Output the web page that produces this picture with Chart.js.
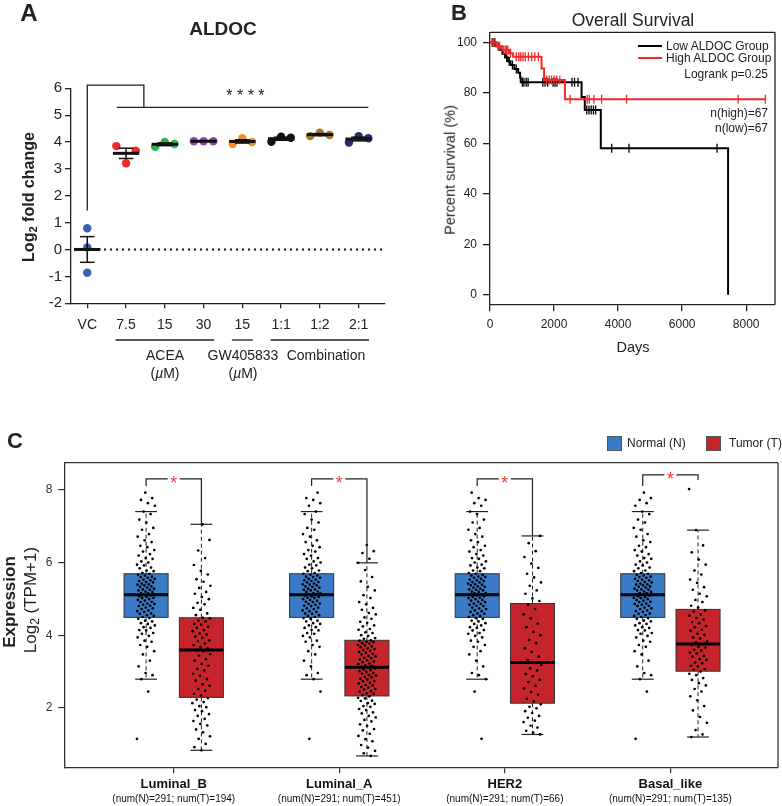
<!DOCTYPE html>
<html>
<head>
<meta charset="utf-8">
<title>ALDOC</title>
<script src="https://cdn.jsdelivr.net/npm/chart.js@4.4.1/dist/chart.umd.min.js"></script>
<style>
  html, body { margin: 0; padding: 0; background: #fff; }
  body { width: 782px; height: 806px; position: relative; overflow: hidden; font-family: 'Liberation Sans', Arial, sans-serif; color: #222; }
  canvas { position: absolute; }
  .lbl { position: absolute; white-space: nowrap; line-height: 1; transform: translate(-50%, -50%); }
  .lbl.left { transform: translate(0, -50%); }
  .lbl.right { transform: translate(-100%, -50%); }
  .lbl.rot { transform: translate(-50%, -50%) rotate(-90deg); }
  .b { font-weight: bold; }
  sub { font-size: 0.7em; vertical-align: -0.3em; line-height: 0; }
  .key { position: absolute; height: 2px; width: 24px; }
  .sq { position: absolute; width: 15px; height: 15px; box-sizing: border-box; border: 1px solid #555; }
</style>
</head>
<body>
<canvas id="chartA" width="400" height="400" style="left:0;top:0"></canvas>
<canvas id="chartB" width="382" height="340" style="left:400px;top:0"></canvas>
<canvas id="chartC" width="782" height="386" style="left:0;top:420px"></canvas>

<!-- panel A text -->
<div class="lbl b" style="left:29px;top:13px;font-size:24px">A</div>
<div class="lbl b" style="left:223px;top:28px;font-size:19px">ALDOC</div>
<div class="lbl b rot" style="left:29px;top:197px;font-size:16px">Log<sub>2</sub> fold change</div>
<div class="lbl" style="left:165px;top:355px;font-size:14px">ACEA</div>
<div class="lbl" style="left:165px;top:373px;font-size:14px">(<i>µ</i>M)</div>
<div class="lbl" style="left:243px;top:355px;font-size:14px">GW405833</div>
<div class="lbl" style="left:243px;top:373px;font-size:14px">(<i>µ</i>M)</div>
<div class="lbl" style="left:326px;top:355px;font-size:14px">Combination</div>

<!-- panel B text -->
<div class="lbl b" style="left:459px;top:13px;font-size:22px">B</div>
<div class="lbl" style="left:633px;top:21px;font-size:17.5px">Overall Survival</div>
<div class="key" style="left:638px;top:45px;background:#000"></div>
<div class="key" style="left:638px;top:56.5px;background:#f42a2a"></div>
<div class="lbl left" style="left:666px;top:46px;font-size:12px">Low ALDOC Group</div>
<div class="lbl left" style="left:666px;top:57.5px;font-size:12px">High ALDOC Group</div>
<div class="lbl right" style="left:768px;top:73.5px;font-size:12px">Logrank p=0.25</div>
<div class="lbl right" style="left:768px;top:112.5px;font-size:12px">n(high)=67</div>
<div class="lbl right" style="left:768px;top:128px;font-size:12px">n(low)=67</div>
<div class="lbl rot" style="left:450px;top:170px;font-size:14.5px">Percent survival (%)</div>
<div class="lbl" style="left:633px;top:347px;font-size:14.5px">Days</div>

<!-- panel C text -->
<div class="lbl b" style="left:15px;top:441px;font-size:22px">C</div>
<div class="sq" style="left:607px;top:436px;background:#3a7bc8"></div>
<div class="lbl left" style="left:627px;top:443px;font-size:12px">Normal (N)</div>
<div class="sq" style="left:706px;top:436px;background:#c4242a"></div>
<div class="lbl left" style="left:729px;top:443px;font-size:12px">Tumor (T)</div>
<div class="lbl b rot" style="left:9px;top:602px;font-size:17px">Expression</div>
<div class="lbl rot" style="left:30px;top:600px;font-size:17px">Log<sub>2</sub> (TPM+1)</div>

<script>
// ---------------- panel A: ALDOC qPCR ----------------
const aldocCats = ['VC', '7.5', '15', '30', '15', '1:1', '1:2', '2:1'];
const aldocVals = [
  [0.79, 0.08, -0.86],
  [3.85, 3.21, 3.68],
  [3.82, 4.0, 3.93],
  [4.03, 4.03, 4.03],
  [3.93, 4.14, 4.0],
  [4.01, 4.2, 4.16],
  [4.22, 4.35, 4.26],
  [3.98, 4.22, 4.14]
];
const aldocColors = ['#3b5fb5', '#ee2a2a', '#2fb24a', '#9247b3', '#f39021', '#111111', '#a57a2e', '#272c72'];
const aldocTicks = [-2, -1, 0, 1, 2, 3, 4, 5, 6];
const aldocGroups = [[1, 3], [4, 4], [5, 7]];

// ---------------- panel B: Kaplan-Meier ----------------
const lowDays  = [0, 200, 300, 400, 470, 560, 640, 760, 880, 940, 960, 2860, 2960, 3460, 7435];
const lowSurv  = [100, 98.5, 97.0, 95.5, 94.0, 92.5, 91.0, 89.5, 88.0, 86.1, 84.2, 78.4, 73.2, 58.0, 0];
const lowCensor = [90, 150, 280, 380, 520, 600, 700, 820, 1010, 1060, 1130, 1190, 1650, 1720, 1800, 1970, 2030, 2090, 2560, 2640, 2750, 3020, 3090, 3160, 3230, 3300, 3800, 4340, 7090];
const highDays = [0, 200, 380, 600, 720, 1610, 1690, 2340, 8600];
const highSurv = [100, 98.5, 97.0, 95.7, 94.3, 89.7, 85.1, 77.5, 77.5];
const highCensor = [60, 120, 250, 300, 430, 480, 520, 560, 640, 820, 900, 960, 1030, 1100, 1200, 1300, 1400, 1510, 1770, 1850, 1920, 2000, 2080, 2180, 2500, 3035, 3100, 3245, 3485, 4265, 7750, 8600];
const kmXTicks = [0, 2000, 4000, 6000, 8000];
const kmYTicks = [0, 20, 40, 60, 80, 100];

// ---------------- panel C: GEPIA boxplots ----------------
const subtypes = ['Luminal_B', 'Luminal_A', 'HER2', 'Basal_like'];
const subtypeCounts = ['(num(N)=291; num(T)=194)', '(num(N)=291; num(T)=451)', '(num(N)=291; num(T)=66)', '(num(N)=291; num(T)=135)'];
// [lower whisker, Q1, median, Q3, upper whisker]
const normalBox = [2.79, 4.49, 5.11, 5.69, 7.40];
const tumorBoxes = [
  [0.835, 2.29, 3.59, 4.48, 7.05],
  [0.68, 2.33, 3.12, 3.86, 5.99],
  [1.27, 2.13, 3.25, 4.87, 6.73],
  [1.20, 3.01, 3.76, 4.71, 6.89]
];
const exprTicks = [2, 4, 6, 8];
const normalPts = [1.15, 2.45, 2.79, 2.9, 2.96, 3.14, 3.3, 3.47, 3.56, 3.68, 3.73, 3.82, 3.85, 3.94, 3.98, 4.04, 4.06, 4.13, 4.14, 4.2, 4.22, 4.27, 4.31, 4.33, 4.38, 4.4, 4.45, 4.47,
  4.5, 4.53, 4.55, 4.59, 4.6, 4.64, 4.66, 4.68, 4.72, 4.74, 4.76, 4.8, 4.81, 4.84, 4.86, 4.87, 4.91, 4.92, 4.95, 4.97, 4.99, 5.02, 5.03, 5.05, 5.07, 5.09, 5.11,
  5.12, 5.15, 5.16, 5.19, 5.2, 5.23, 5.25, 5.26, 5.28, 5.31, 5.33, 5.34, 5.37, 5.39, 5.4, 5.42, 5.45, 5.46, 5.49, 5.51, 5.53, 5.55, 5.58, 5.6, 5.61, 5.64, 5.66, 5.69,
  5.71, 5.76, 5.78, 5.84, 5.86, 5.92, 5.94, 6.0, 6.03, 6.1, 6.12, 6.19, 6.23, 6.3, 6.34, 6.42, 6.46, 6.56, 6.61, 6.71, 6.78, 6.9, 6.95, 7.1, 7.18, 7.33, 7.4, 7.56, 7.63, 7.72, 7.77, 7.92];
const tumorPts = [
  [0.835, 0.92, 1.01, 1.15, 1.22, 1.33, 1.41, 1.52, 1.56, 1.64, 1.7, 1.78, 1.83, 1.91, 1.94, 2.02, 2.05, 2.13, 2.16, 2.23, 2.27,
   2.34, 2.39, 2.47, 2.52, 2.61, 2.65, 2.75, 2.79, 2.88, 2.94, 3.03, 3.07, 3.16, 3.21, 3.3, 3.34, 3.44, 3.48, 3.56, 3.59,
   3.64, 3.67, 3.73, 3.77, 3.84, 3.86, 3.93, 3.96, 4.02, 4.05, 4.11, 4.14, 4.2, 4.23, 4.29, 4.31, 4.38, 4.4, 4.46, 4.48,
   4.55, 4.6, 4.7, 4.75, 4.85, 4.89, 4.99, 5.05, 5.14, 5.19, 5.3, 5.36, 5.47, 5.54, 5.67, 5.77, 5.93, 6.12, 6.33, 6.62, 7.05],
  [0.68, 0.75, 0.82, 0.91, 0.98, 1.08, 1.14, 1.23, 1.29, 1.38, 1.42, 1.51, 1.55, 1.63, 1.67, 1.74, 1.78, 1.85, 1.88, 1.94, 1.97, 2.03, 2.05, 2.11, 2.13, 2.19, 2.2, 2.26, 2.28, 2.32,
   2.35, 2.39, 2.4, 2.45, 2.46, 2.51, 2.52, 2.56, 2.58, 2.62, 2.63, 2.67, 2.69, 2.73, 2.74, 2.78, 2.8, 2.84, 2.85, 2.89, 2.9, 2.94, 2.96, 2.99, 3.01, 3.04, 3.06, 3.09, 3.1, 3.12,
   3.15, 3.17, 3.21, 3.22, 3.26, 3.28, 3.31, 3.33, 3.37, 3.38, 3.42, 3.43, 3.47, 3.49, 3.52, 3.54, 3.57, 3.59, 3.62, 3.64, 3.67, 3.69, 3.72, 3.73, 3.77, 3.78, 3.81, 3.82, 3.85, 3.86,
   3.9, 3.92, 3.98, 4.0, 4.06, 4.08, 4.15, 4.17, 4.24, 4.27, 4.34, 4.37, 4.45, 4.49, 4.57, 4.61, 4.7, 4.75, 4.85, 4.91, 5.02, 5.1, 5.23, 5.33, 5.48, 5.6, 5.79, 5.99, 6.1, 6.26, 6.31, 6.48],
  [1.27, 1.32, 1.37, 1.46, 1.51, 1.61, 1.65, 1.73, 1.78, 1.86, 1.91, 1.99, 2.03, 2.1,
   2.18, 2.25, 2.36, 2.44, 2.54, 2.61, 2.71, 2.77, 2.87, 2.93, 3.03, 3.09, 3.18, 3.24,
   3.32, 3.41, 3.54, 3.64, 3.78, 3.87, 4.0, 4.09, 4.22, 4.32, 4.46, 4.57, 4.72, 4.84,
   4.94, 5.01, 5.14, 5.23, 5.36, 5.45, 5.59, 5.69, 5.85, 5.97, 6.15, 6.31, 6.53, 6.73],
  [1.2, 1.27, 1.39, 1.59, 1.75, 1.93, 2.05, 2.21, 2.32, 2.45, 2.52, 2.62, 2.68, 2.77, 2.82, 2.9, 2.94, 3.0,
   3.05, 3.07, 3.14, 3.16, 3.23, 3.25, 3.32, 3.34, 3.41, 3.43, 3.5, 3.52, 3.58, 3.6, 3.66, 3.68, 3.73, 3.75,
   3.8, 3.83, 3.91, 3.94, 4.01, 4.04, 4.12, 4.15, 4.22, 4.25, 4.33, 4.36, 4.43, 4.47, 4.54, 4.57, 4.65, 4.68,
   4.76, 4.81, 4.91, 4.97, 5.07, 5.14, 5.25, 5.32, 5.44, 5.53, 5.67, 5.78, 5.94, 6.08, 6.28, 6.47, 6.89, 8.02]
];

Chart.defaults.font.family = "'Liberation Sans', Arial, sans-serif";
Chart.defaults.color = '#222';

const axisGrid = { drawOnChartArea: false, drawTicks: true, tickLength: 6, color: '#222', lineWidth: 1.3 };
const axisBorder = { color: '#222', width: 1.3 };

function line(ctx, x1, y1, x2, y2) {
  ctx.beginPath();
  ctx.moveTo(x1, y1);
  ctx.lineTo(x2, y2);
  ctx.stroke();
}

function meanOf(a) { return a.reduce((s, v) => s + v, 0) / a.length; }
function semOf(a) {
  const m = meanOf(a);
  const sd = Math.sqrt(a.reduce((s, v) => s + (v - m) * (v - m), 0) / (a.length - 1));
  return sd / Math.sqrt(a.length);
}

// ---- chart A ----
const ptsA = [];
const colA = [];
aldocVals.forEach((vals, i) => {
  // prism spreads points sideways only when they overlap
  const spread = (Math.max(...vals) - Math.min(...vals)) < 0.7 ? 0.25 : 0;
  vals.forEach((v, j) => {
    ptsA.push({ x: i + (j - 1) * spread, y: v });
    colA.push(aldocColors[i]);
  });
});

const aldocMarks = {
  id: 'aldocMarks',
  beforeDatasetsDraw(chart) {
    const { ctx, scales: { x, y }, chartArea: a } = chart;
    ctx.save();
    ctx.strokeStyle = '#111';
    ctx.lineWidth = 2;
    ctx.setLineDash([2, 4]);
    line(ctx, a.left + 3, y.getPixelForValue(0), a.right - 3, y.getPixelForValue(0));
    ctx.restore();
  },
  afterDatasetsDraw(chart) {
    const { ctx, scales: { x, y }, chartArea: a } = chart;
    const px = v => x.getPixelForValue(v);
    const py = v => y.getPixelForValue(v);
    ctx.save();
    ctx.strokeStyle = '#111';
    aldocVals.forEach((vals, i) => {
      const m = meanOf(vals), e = semOf(vals);
      ctx.lineWidth = 1.5;
      line(ctx, px(i), py(m - e), px(i), py(m + e));
      line(ctx, px(i - 0.19), py(m + e), px(i + 0.19), py(m + e));
      line(ctx, px(i - 0.19), py(m - e), px(i + 0.19), py(m - e));
      ctx.lineWidth = 3;
      line(ctx, px(i - 0.34), py(m), px(i + 0.34), py(m));
    });
    // significance bracket
    ctx.strokeStyle = '#222';
    ctx.lineWidth = 1.3;
    ctx.beginPath();
    ctx.moveTo(px(0), py(1.45));
    ctx.lineTo(px(0), py(6.12));
    ctx.lineTo(px(1.46), py(6.12));
    ctx.lineTo(px(1.46), py(5.29));
    ctx.stroke();
    line(ctx, px(0.76), py(5.29), px(7.25), py(5.29));
    ctx.fillStyle = '#222';
    ctx.font = "16px 'Liberation Sans', Arial, sans-serif";
    ctx.textAlign = 'center';
    ctx.textBaseline = 'alphabetic';
    ctx.fillText('* * * *', px(4.08), py(5.87) + 9);
    // treatment group underlines
    const gy = a.bottom + 36.7;
    aldocGroups.forEach(([f, t]) => line(ctx, px(f - 0.27), gy, px(t + 0.27), gy));
    ctx.restore();
  }
};

new Chart(document.getElementById('chartA'), {
  type: 'scatter',
  data: {
    datasets: [{
      data: ptsA,
      pointRadius: 4.2,
      pointBackgroundColor: colA,
      pointBorderWidth: 0
    }]
  },
  options: {
    responsive: false,
    animation: false,
    devicePixelRatio: 1,
    layout: { padding: { top: 88.3, right: 15, left: 0, bottom: 0 } },
    plugins: { legend: { display: false }, tooltip: { enabled: false } },
    scales: {
      x: {
        type: 'linear', min: -0.42, max: 7.68,
        afterBuildTicks: s => { s.ticks = aldocCats.map((c, i) => ({ value: i })); },
        afterFit: s => { s.height = 96.7; },
        ticks: { callback: v => aldocCats[v], font: { size: 14 }, color: '#222', padding: 8, maxRotation: 0, autoSkip: false },
        grid: Object.assign({}, axisGrid, { tickLength: 5 }),
        border: axisBorder
      },
      y: {
        type: 'linear', min: -2, max: 6,
        afterBuildTicks: s => { s.ticks = aldocTicks.map(v => ({ value: v })); },
        afterFit: s => { s.width = 71; },
        ticks: { font: { size: 15 }, color: '#222', padding: 3 },
        grid: axisGrid,
        border: axisBorder
      }
    }
  },
  plugins: [aldocMarks]
});

// ---- chart B ----
function survAt(days, surv, t) {
  let s = surv[0];
  for (let i = 0; i < days.length; i++) {
    if (days[i] <= t) s = surv[i];
  }
  return s;
}
const kmFrame = {
  id: 'kmFrame',
  afterDraw(chart) {
    const { ctx, chartArea: a } = chart;
    ctx.save();
    ctx.strokeStyle = '#222';
    ctx.lineWidth = 1.3;
    line(ctx, a.left, a.top, a.right, a.top);
    line(ctx, a.right, a.top, a.right, a.bottom);
    ctx.restore();
  }
};

new Chart(document.getElementById('chartB'), {
  type: 'scatter',
  data: {
    datasets: [
      {
        data: highDays.map((d, i) => ({ x: d, y: highSurv[i] })),
        showLine: true, stepped: true, borderColor: '#f42a2a', borderWidth: 2, pointRadius: 0
      },
      {
        data: highCensor.map(d => ({ x: d, y: survAt(highDays, highSurv, d) })),
        showLine: false, pointStyle: 'line', rotation: 90, pointRadius: 4.5,
        borderColor: '#f42a2a', pointBorderWidth: 1.3
      },
      {
        data: lowDays.map((d, i) => ({ x: d, y: lowSurv[i] })),
        showLine: true, stepped: true, borderColor: '#000', borderWidth: 2, pointRadius: 0
      },
      {
        data: lowCensor.map(d => ({ x: d, y: survAt(lowDays, lowSurv, d) })),
        showLine: false, pointStyle: 'line', rotation: 90, pointRadius: 4.5,
        borderColor: '#000', pointBorderWidth: 1.3
      }
    ]
  },
  options: {
    responsive: false,
    animation: false,
    devicePixelRatio: 1,
    layout: { padding: { top: 32.3, right: 7, left: 0, bottom: 0 } },
    plugins: { legend: { display: false }, tooltip: { enabled: false } },
    scales: {
      x: {
        type: 'linear', min: 0, max: 8900,
        afterBuildTicks: s => { s.ticks = kmXTicks.map(v => ({ value: v })); },
        afterFit: s => { s.height = 35.7; },
        ticks: { callback: v => String(v), font: { size: 12 }, color: '#222', padding: 6, maxRotation: 0 },
        grid: Object.assign({}, axisGrid, { tickLength: 7 }),
        border: axisBorder
      },
      y: {
        type: 'linear', min: -3.8, max: 104,
        afterBuildTicks: s => { s.ticks = kmYTicks.map(v => ({ value: v })); },
        afterFit: s => { s.width = 90; },
        ticks: { callback: v => String(v), font: { size: 12 }, color: '#222', padding: 6 },
        grid: Object.assign({}, axisGrid, { tickLength: 7 }),
        border: axisBorder
      }
    }
  },
  plugins: [kmFrame]
});

// ---- chart C ----
const sideOffset = 0.167;
const boxHalf = 0.133;
const capHalf = 0.066;
const jitHalf = 0.055;
const normalColor = '#3a7bc8';
const tumorColor = '#c4242a';

function jit(k, phase) {
  return (((k * 0.6180339887 + phase) % 1) - 0.5) * 2 * jitHalf;
}

function drawBox(ctx, x, y, cx, s, color) {
  const [lw, q1, med, q3, uw] = s;
  const xc = x.getPixelForValue(cx);
  const xl = x.getPixelForValue(cx - boxHalf), xr = x.getPixelForValue(cx + boxHalf);
  const cl = x.getPixelForValue(cx - capHalf), cr = x.getPixelForValue(cx + capHalf);
  const py = v => y.getPixelForValue(v);
  ctx.strokeStyle = '#222';
  ctx.lineWidth = 1;
  ctx.setLineDash([4, 3]);
  line(ctx, xc, py(q3), xc, py(uw));
  line(ctx, xc, py(q1), xc, py(lw));
  ctx.setLineDash([]);
  ctx.lineWidth = 1.2;
  line(ctx, cl, py(uw), cr, py(uw));
  line(ctx, cl, py(lw), cr, py(lw));
  ctx.fillStyle = color;
  ctx.fillRect(xl, py(q3), xr - xl, py(q1) - py(q3));
  ctx.strokeStyle = '#333';
  ctx.lineWidth = 1;
  ctx.strokeRect(xl, py(q3), xr - xl, py(q1) - py(q3));
  ctx.strokeStyle = '#000';
  ctx.lineWidth = 3;
  line(ctx, xl, py(med), xr, py(med));
}

const boxMarks = {
  id: 'boxMarks',
  beforeDatasetsDraw(chart) {
    const { ctx, scales: { x, y } } = chart;
    ctx.save();
    subtypes.forEach((name, i) => {
      drawBox(ctx, x, y, i - sideOffset, normalBox, normalColor);
      drawBox(ctx, x, y, i + sideOffset, tumorBoxes[i], tumorColor);
    });
    ctx.restore();
  },
  afterDraw(chart) {
    const { ctx, scales: { x, y }, chartArea: a } = chart;
    const px = v => x.getPixelForValue(v);
    const py = v => y.getPixelForValue(v);
    ctx.save();
    ctx.strokeStyle = '#333';
    ctx.lineWidth = 1.3;
    line(ctx, a.left, a.top, a.right, a.top);
    line(ctx, a.right, a.top, a.right, a.bottom);
    // significance brackets
    subtypes.forEach((name, i) => {
      const top = i === 3 ? 8.41 : 8.3;
      const rightEnd = i === 3 ? 8.27 : tumorBoxes[i][4];
      const xl = px(i - sideOffset), xr = px(i + sideOffset);
      ctx.strokeStyle = '#222';
      ctx.lineWidth = 1.2;
      ctx.beginPath();
      ctx.moveTo(xl, py(8.1));
      ctx.lineTo(xl, py(top));
      ctx.lineTo(xr, py(top));
      ctx.lineTo(xr, py(rightEnd));
      ctx.stroke();
      const mx = (xl + xr) / 2;
      ctx.fillStyle = '#fff';
      ctx.fillRect(mx - 6, py(top) - 3, 12, 6);
      ctx.fillStyle = '#f23c3c';
      ctx.font = "18px 'Liberation Sans', Arial, sans-serif";
      ctx.textAlign = 'center';
      ctx.textBaseline = 'alphabetic';
      ctx.fillText('*', mx, py(top) + 10.5);
      // category labels
      ctx.fillStyle = '#111';
      ctx.font = "bold 13px 'Liberation Sans', Arial, sans-serif";
      ctx.textBaseline = 'middle';
      ctx.fillText(name, px(i), a.bottom + 17);
      ctx.font = "10px 'Liberation Sans', Arial, sans-serif";
      ctx.fillText(subtypeCounts[i], px(i), a.bottom + 32);
    });
    ctx.restore();
  }
};

const datasetsC = [];
subtypes.forEach((name, i) => {
  datasetsC.push({
    data: normalPts.map((v, k) => ({ x: i - sideOffset + jit(k, i * 0.37), y: v })),
    pointRadius: 1.35, pointBackgroundColor: '#000', pointBorderWidth: 0
  });
  datasetsC.push({
    data: tumorPts[i].map((v, k) => ({ x: i + sideOffset + jit(k, i * 0.21 + 0.5), y: v })),
    pointRadius: 1.35, pointBackgroundColor: '#000', pointBorderWidth: 0
  });
});

new Chart(document.getElementById('chartC'), {
  type: 'scatter',
  data: { datasets: datasetsC },
  options: {
    responsive: false,
    animation: false,
    devicePixelRatio: 1,
    layout: { padding: { top: 42.7, right: 2, left: 0, bottom: 0 } },
    plugins: { legend: { display: false }, tooltip: { enabled: false } },
    scales: {
      x: {
        type: 'linear', min: -0.661, max: 3.65,
        afterBuildTicks: s => { s.ticks = subtypes.map((c, i) => ({ value: i })); },
        afterFit: s => { s.height = 38.7; },
        ticks: { callback: () => '', padding: 0 },
        grid: { drawOnChartArea: false, drawTicks: true, tickLength: 6, color: '#333', lineWidth: 1.2 },
        border: { color: '#333', width: 1.3 }
      },
      y: {
        type: 'linear', min: 0.367, max: 8.744,
        afterBuildTicks: s => { s.ticks = exprTicks.map(v => ({ value: v })); },
        afterFit: s => { s.width = 64.3; },
        ticks: { font: { size: 12 }, color: '#333', padding: 6 },
        grid: { drawOnChartArea: false, drawTicks: true, tickLength: 6, color: '#333', lineWidth: 1.2 },
        border: { color: '#333', width: 1.3 }
      }
    }
  },
  plugins: [boxMarks]
});
</script>
</body>
</html>
